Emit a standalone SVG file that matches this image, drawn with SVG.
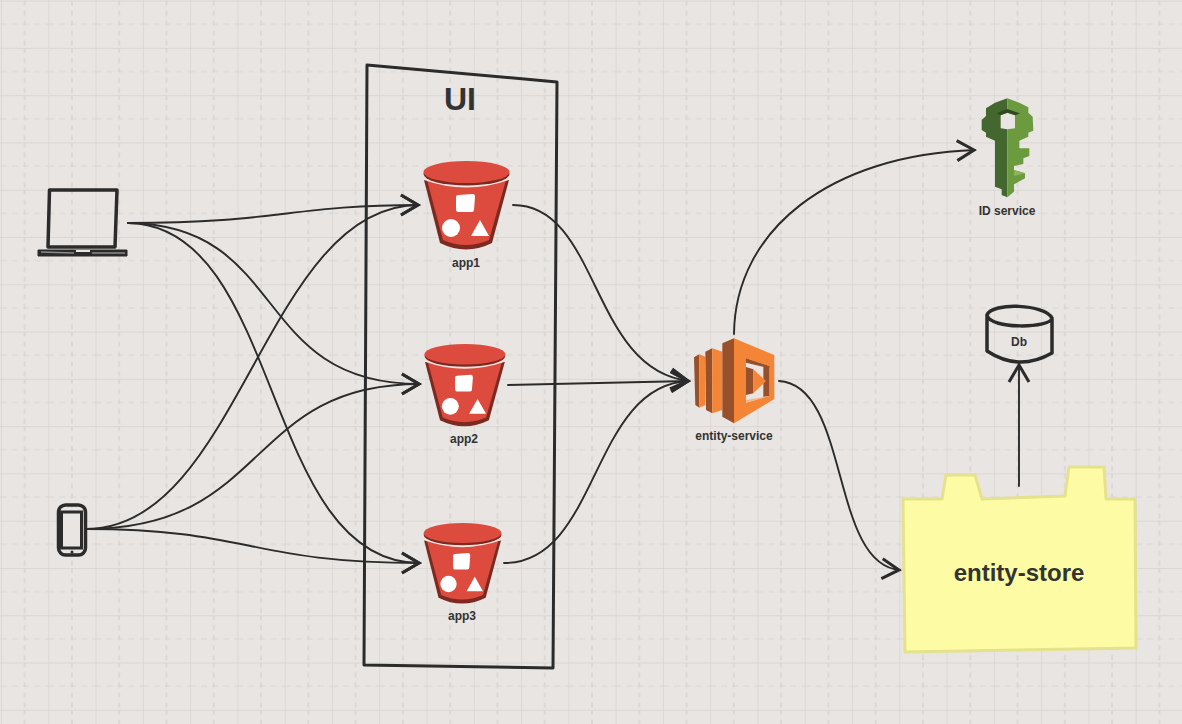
<svg xmlns="http://www.w3.org/2000/svg" width="1182" height="724" viewBox="0 0 1182 724">
<style>
.lbl{font-family:"Liberation Sans",Arial,sans-serif;font-weight:700;fill:#333;text-anchor:middle}
.s{font-size:12px}
.ink{fill:none;stroke:#2b2b2b;stroke-linejoin:round;stroke-linecap:round}
.c{fill:none;stroke:#2b2b2b;stroke-width:1.9;stroke-linecap:round;marker-end:url(#arrow)}
</style>
<defs>
<pattern id="grid" x="1" y="0.6" width="47.28" height="47.28" patternUnits="userSpaceOnUse">
<path d="M23.64 0V47.28" stroke="#d8d5d2" stroke-width="1.6" stroke-dasharray="5 5" fill="none"/>
<path d="M0 23.64H47.28" stroke="#d8d5d2" stroke-width="1.2" stroke-dasharray="6 5" fill="none"/>
<path d="M0 0V47.28M0 0H47.28" stroke="#d6d3d0" stroke-width="1.4" fill="none"/>
</pattern>
<marker id="arrow" markerUnits="userSpaceOnUse" markerWidth="28" markerHeight="28" refX="22" refY="14" orient="auto">
<path d="M4 4L21 14L4 24" fill="none" stroke="#2b2b2b" stroke-width="3" stroke-linecap="butt" stroke-linejoin="miter"/>
</marker>
<g id="bucket">
<path d="M424 180L509 180L492 243Q466 256 440 243Z" fill="#7b2a21"/>
<path d="M427 180L506 180L489 240Q466 250 443 240Z" fill="#dd4b3e"/>
<path d="M424 177Q466 192 509 177L509 180Q466 195 424 180Z" fill="#f4e4e0"/>
<ellipse cx="466.500" cy="174" rx="43" ry="11.500" fill="#7b2a21"/>
<ellipse cx="466.500" cy="172" rx="43" ry="11" fill="#dd4b3e"/>
<path d="M458 195L473 194Q475 194 475 197L474 210Q474 212 472 212L458 212Q456 212 456 209L456 197Q456 195 458 195Z" fill="#fff"/>
<circle cx="451" cy="228" r="9" fill="#fff"/>
<path d="M480 220L489 236L471 236Z" fill="#fff"/>
</g>
</defs>
<rect width="1182" height="724" fill="#e8e5e2"/>
<rect width="1182" height="724" fill="url(#grid)"/>

<g id="ui-boundary">
<path class="ink" stroke-width="3" d="M367 65L557 82L553 668L364 665Z"/>
<text class="lbl" x="460" y="110" font-size="32">UI</text>
</g>

<g id="connectors">
<path class="c" d="M128 223C280 223 290 205 419 205"/>
<path class="c" d="M128 223C290 225 250 384 420 384"/>
<path class="c" d="M128 223C284 225 261 563 420 563"/>
<path class="c" d="M86 529C240 529 265 205 419 205"/>
<path class="c" d="M86 529C270 529 245 384 420 384"/>
<path class="c" d="M86 529C250 529 250 563 420 563"/>
<path class="c" d="M513 205C600 205 590 370 689 381"/>
<path class="c" d="M508 385L689 381"/>
<path class="c" d="M504 563C600 563 590 385 689 381"/>
<path class="c" d="M734 334C735 230 830 155 975 150"/>
<path class="c" d="M779 381C850 385 830 565 900 570"/>
<path class="c" d="M1019 486L1019 364"/>
</g>

<g id="laptop">
<path class="ink" stroke-width="3.500" d="M49.500 190L117 190L115 247L48 247Z"/>
<path d="M38 250L127 250L127 256L38 256Z" fill="#2b2b2b" stroke="#2b2b2b" stroke-linejoin="round"/>
<path d="M41 252L74 253M92 253L125 253" stroke="#8c8a88" stroke-width="1.500" fill="none"/>
<path d="M76 250L90 250L90 252L76 252Z" fill="#e8e5e2"/>
</g>

<g id="phone">
<rect x="58.500" y="505" width="27" height="50" rx="7" fill="none" stroke="#2b2b2b" stroke-width="3.500"/>
<rect x="61.500" y="512" width="20" height="36" fill="#e8e5e2" stroke="#2b2b2b" stroke-width="3"/>
<circle cx="72" cy="552" r="1.500" fill="#2b2b2b"/>
</g>

<g id="app1">
<use href="#bucket"/>
<text class="lbl s" x="466" y="267">app1</text>
</g>
<g id="app2">
<use href="#bucket" transform="translate(26.400 194.300) scale(.94 .93)"/>
<text class="lbl s" x="464" y="443">app2</text>
</g>
<g id="app3">
<use href="#bucket" transform="translate(39.900 376.500) scale(.906 .91)"/>
<text class="lbl s" x="462" y="620">app3</text>
</g>

<g id="entity-service">
<g transform="translate(680 325) scale(.33333)">
<path d="M42 97L58 88V248L46 240Z" fill="#98502a"/>
<path d="M58 88L76 95V240L58 248Z" fill="#f58536"/>
<path d="M76 80L97 70V265L78 255Z" fill="#98502a"/>
<path d="M97 70L127 80V255L97 265Z" fill="#f58536"/>
<path d="M127 55L162 40V295L127 275Z" fill="#98502a"/>
<path d="M162 40L283 90V222L162 295Z" fill="#f58536"/>
<path d="M198 100L268 123V213L198 233Z" fill="#e8e5e2"/>
<path d="M198 100L268 123V130L198 113Z" fill="#98502a"/>
<path d="M250 125L268 123V213L250 216Z" fill="#98502a"/>
<path d="M198 225L268 213L198 233Z" fill="#f9b58a"/>
<path d="M198 126L220 133V205L198 210Z" fill="#98502a"/>
<path d="M220 133L258 168L220 205Z" fill="#f58536"/>
</g>
<text class="lbl s" x="734" y="440">entity-service</text>
</g>

<g id="id-service">
<g transform="translate(960 90) scale(.33333)">
<path d="M142 25L105 38L78 55V78L65 90V120L78 128V140L105 152V290L125 298V315L142 322Z" fill="#44662f"/>
<path d="M142 25L178 38L205 52V68L218 80L220 122L205 128V140L178 152V175H208V198L190 205V222L162 228V240L195 250V265L162 283V305L142 322Z" fill="#6c9a3f"/>
<path d="M122 75L142 68L165 75V115L142 118L122 115Z" fill="#e8e5e2"/>
<path d="M110 70L142 57L180 70L165 76L142 68L122 76Z" fill="#2f4a20"/>
<path d="M162 240L195 250L162 258Z" fill="#8ab35c"/>
</g>
<text class="lbl s" x="1007" y="215">ID service</text>
</g>

<g id="db">
<path class="ink" stroke-width="3.500" d="M987 315C992 302 1045 304 1052 318C1052 328 990 330 987 315L987 351Q1019 372 1052 353L1052 318"/>
<text class="lbl s" x="1019" y="346">Db</text>
</g>

<g id="entity-store">
<path d="M903 499L942 499L946 475L975 475L982 499L1065 496L1069 467L1104 467L1106 499L1135 499L1136 648L905 652Z" fill="#fdfca4" stroke="#e4e28c" stroke-width="3" stroke-linejoin="round"/>
<text class="lbl" x="1019" y="581" font-size="24">entity-store</text>
</g>
</svg>
